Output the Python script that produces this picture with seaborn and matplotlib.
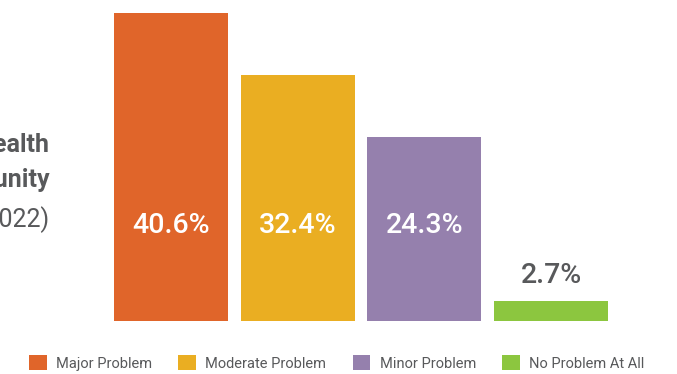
import matplotlib
matplotlib.use("Agg")
import matplotlib.pyplot as plt
from matplotlib.patches import Patch
import seaborn as sns
import pandas as pd

categories = ["Major Problem", "Moderate Problem", "Minor Problem", "No Problem At All"]
values = [40.6, 32.4, 24.3, 2.7]
colors = ["#E0652A", "#EAAE22", "#9580AD", "#8CC63F"]
title_lines = ["Mental Health", "in My Community", "(2022)"]

sns.set_theme(style="white")
plt.rcParams["font.family"] = ["Roboto", "DejaVu Sans"]

W, H = 677, 374
fig = plt.figure(figsize=(W / 100, H / 100), dpi=100)

# axes spans the full width; bars sit on a baseline 53px above the bottom edge
ax = fig.add_axes([0, 53 / H, 1, 321 / H])
df = pd.DataFrame({"category": categories, "value": values})
sns.barplot(data=df, x="category", y="value", hue="category", palette=colors,
            width=0.9, legend=False, ax=ax, saturation=1, linewidth=0,
            edgecolor="none")

px_per_unit = 126.67
ax.set_xlim(-171 / px_per_unit, (W - 171) / px_per_unit)
ax.set_ylim(0, 42.3)
ax.axis("off")

text_gray = "#58595B"
for i, v in enumerate(values):
    if v > 10:
        ax.text(i, 12.65, f"{v}%", ha="center", va="center", color="white",
                fontsize=20.5, fontweight="medium")
    else:
        ax.text(i, v + 3.3, f"{v}%", ha="center", va="center", color=text_gray,
                fontsize=20.5, fontweight="medium")

# title text at the left, right-aligned
x_right = 49 / W
fig.text(x_right, 1 - 152 / H, title_lines[0], ha="right", va="baseline",
         fontsize=18, fontweight="bold", color=text_gray)
fig.text(x_right, 1 - 187 / H, title_lines[1], ha="right", va="baseline",
         fontsize=18, fontweight="bold", color=text_gray)
fig.text(x_right, 1 - 227 / H, title_lines[2], ha="right", va="baseline",
         fontsize=18, color=text_gray)

handles = [Patch(facecolor=c, edgecolor="none") for c in colors]
fig.legend(handles, categories, loc="center left", bbox_to_anchor=(29 / W, 11 / H),
           ncol=4, frameon=False, fontsize=10.5, handlelength=1.2, handleheight=1.2,
           handletextpad=0.65, columnspacing=1.8, labelcolor=text_gray,
           borderaxespad=0, borderpad=0)

fig.savefig("out.png", dpi=100)
